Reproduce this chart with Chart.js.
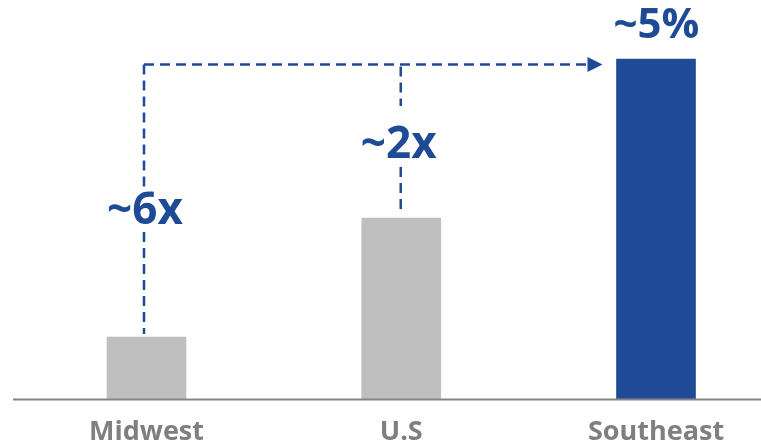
<!DOCTYPE html>
<html>
<head>
<meta charset="utf-8">
<script src="https://cdn.jsdelivr.net/npm/chart.js@4/dist/chart.umd.min.js"></script>
<style>
  html, body { margin: 0; padding: 0; background: #fff; }
  #wrap { width: 761px; height: 445px; }
</style>
</head>
<body>
<div id="wrap"><canvas id="chart"></canvas></div>
<script>
// data (percent)
const regions = ["Midwest", "U.S", "Southeast"];
const shareValues = [0.91, 2.66, 5.0];
const barColors = ["#bfbfbf", "#bfbfbf", "#1f4a96"];
const topLabel = "~5%";
const ratioLabels = ["~6x", "~2x"];

const BLUE = "#1f4a96";

// dashed arrows + big labels
const annotations = {
    id: 'annotations',
    afterDatasetsDraw(chart) {
        const ctx = chart.ctx;
        const bars = chart.getDatasetMeta(0).data;
        const mw = bars[0], us = bars[1], se = bars[2];
        const area = chart.chartArea;

        // axis line
        ctx.save();
        ctx.strokeStyle = "#858585";
        ctx.lineWidth = 2;
        ctx.beginPath();
        ctx.moveTo(13, area.bottom + 0.5);
        ctx.lineTo(chart.width, area.bottom + 0.5);
        ctx.stroke();
        ctx.restore();

        const lineY = se.y + 5.5;
        const tipX = se.x - se.width / 2 - 14;
        const leftX = mw.x - 2.5;
        const midX = us.x - 0.5;

        ctx.save();
        ctx.strokeStyle = BLUE;
        ctx.fillStyle = BLUE;
        ctx.lineWidth = 2.5;
        ctx.setLineDash([10, 6]);

        // horizontal
        ctx.beginPath();
        ctx.moveTo(leftX, lineY);
        ctx.lineTo(tipX - 15, lineY);
        ctx.stroke();

        // left vertical (Midwest)
        ctx.beginPath();
        ctx.moveTo(leftX, lineY);
        ctx.lineTo(leftX, 195);
        ctx.moveTo(leftX, 232);
        ctx.lineTo(leftX, mw.y - 3);
        ctx.stroke();

        // middle vertical (U.S)
        ctx.beginPath();
        ctx.moveTo(midX, lineY + 2);
        ctx.lineTo(midX, 106);
        ctx.moveTo(midX, 167);
        ctx.lineTo(midX, us.y - 3);
        ctx.stroke();

        // arrow head
        ctx.setLineDash([]);
        ctx.beginPath();
        ctx.moveTo(tipX, lineY);
        ctx.lineTo(tipX - 15, lineY - 7.5);
        ctx.lineTo(tipX - 15, lineY + 7.5);
        ctx.closePath();
        ctx.fill();

        // labels
        ctx.textAlign = 'center';
        ctx.textBaseline = 'alphabetic';
        ctx.font = 'bold 44px "Open Sans"';
        ctx.fillText(ratioLabels[0], leftX + 1, 224);
        ctx.fillText(ratioLabels[1], midX - 2, 158);
        ctx.font = 'bold 42px "Open Sans"';
        ctx.fillText(topLabel, se.x + 0.5, 38);
        ctx.restore();
    }
};

new Chart(document.getElementById('chart'), {
    type: 'bar',
    data: {
        labels: regions,
        datasets: [{
            data: shareValues,
            backgroundColor: barColors,
            barThickness: 79,
            clip: false
        }]
    },
    options: {
        responsive: true,
        maintainAspectRatio: false,
        animation: false,
        layout: { padding: { left: 146.5, right: 105, top: 25, bottom: -20 } },
        plugins: {
            legend: { display: false },
            tooltip: { enabled: false }
        },
        scales: {
            x: {
                offset: false,
                grid: { display: false, drawTicks: false },
                border: { display: false },
                ticks: {
                    padding: 19.5,
                    color: "#7f7f7f",
                    font: { family: '"Open Sans"', size: 27, weight: 'bold', lineHeight: 1 }
                }
            },
            y: {
                display: false,
                min: 0,
                max: 5.5
            }
        }
    },
    plugins: [annotations]
});
</script>
</body>
</html>
